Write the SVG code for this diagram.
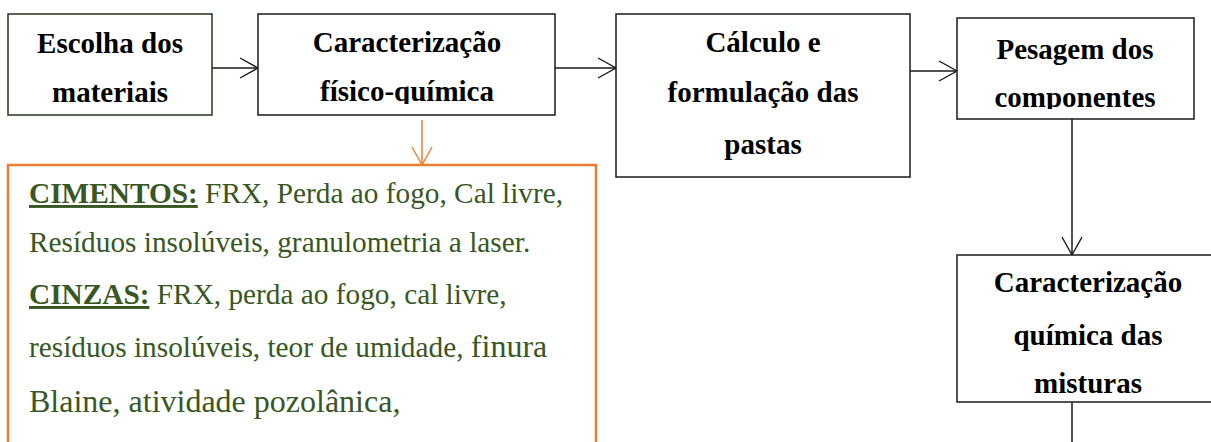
<svg xmlns="http://www.w3.org/2000/svg" width="1211" height="442" viewBox="0 0 1211 442">
  <style>
    .box { fill: #ffffff; stroke: #1a1a1a; stroke-width: 1.5; }
    .head { font-family: "Liberation Serif", "Times New Roman", serif; font-weight: bold; font-size: 29px; fill: #000000; text-anchor: middle; }
    .conn { fill: none; stroke: #1a1a1a; stroke-width: 1.5; }
    .body { font-family: "Liberation Serif", "Times New Roman", serif; font-size: 29.3px; fill: #385723; }
    .big { font-size: 32px; }
    .lbl { font-weight: bold; text-decoration: underline; }
  </style>
  <defs>
    <marker id="arr" viewBox="0 0 20 22" refX="19" refY="11" markerWidth="20" markerHeight="22" markerUnits="userSpaceOnUse" orient="auto">
      <path d="M1,1 L19,11 L1,21" fill="none" stroke="#1a1a1a" stroke-width="1.4"/>
    </marker>
    <marker id="arrO" viewBox="0 0 20 22" refX="19" refY="11" markerWidth="20" markerHeight="22" markerUnits="userSpaceOnUse" orient="auto">
      <path d="M1,1 L19,11 L1,21" fill="none" stroke="#ED7D31" stroke-width="1.4"/>
    </marker>
    <clipPath id="c2"><rect x="258" y="14" width="297" height="90"/></clipPath>
    <clipPath id="c4"><rect x="957" y="18" width="237" height="91"/></clipPath>
    <clipPath id="c5"><rect x="957" y="255" width="260" height="138"/></clipPath>
  </defs>

  <g id="connectors">
    <line class="conn" x1="212" y1="68" x2="258" y2="68" marker-end="url(#arr)"/>
    <line class="conn" x1="555" y1="68" x2="616" y2="68" marker-end="url(#arr)"/>
    <line class="conn" x1="910" y1="71" x2="957" y2="71" marker-end="url(#arr)"/>
    <line class="conn" x1="1072" y1="119" x2="1072" y2="255" marker-end="url(#arr)"/>
    <line class="conn" x1="1072" y1="402" x2="1072" y2="445"/>
    <line x1="422" y1="120" x2="422" y2="165" stroke="#ED7D31" stroke-width="1.5" marker-end="url(#arrO)"/>
  </g>

  <g id="n1">
    <rect class="box" x="8" y="14" width="204" height="101" style="stroke:#24361a"/>
    <text class="head" x="110" y="53">Escolha dos</text>
    <text class="head" x="110" y="102">materiais</text>
  </g>

  <g id="n2">
    <rect class="box" x="258" y="14" width="297" height="101"/>
    <text class="head" x="407" y="52">Caracterização</text>
    <text class="head" x="407" y="101" clip-path="url(#c2)">físico-química</text>
  </g>

  <g id="n3">
    <rect class="box" x="616" y="14" width="294" height="163"/>
    <text class="head" x="763" y="52">Cálculo e</text>
    <text class="head" x="763" y="102">formulação das</text>
    <text class="head" x="763" y="154">pastas</text>
  </g>

  <g id="n4">
    <rect class="box" x="957" y="18" width="237" height="101"/>
    <text class="head" x="1075" y="59">Pesagem dos</text>
    <text class="head" x="1075" y="107" clip-path="url(#c4)">componentes</text>
  </g>

  <g id="n5">
    <rect class="box" x="957" y="255" width="262" height="147"/>
    <text class="head" x="1088" y="292">Caracterização</text>
    <text class="head" x="1088" y="345">química das</text>
    <text class="head" x="1088" y="393" clip-path="url(#c5)">misturas</text>
  </g>

  <g id="n6">
    <rect x="8" y="165" width="588" height="290" fill="#ffffff" stroke="#ED7D31" stroke-width="2.5"/>
    <text class="body" x="29" y="203"><tspan class="lbl">CIMENTOS:</tspan> FRX, Perda ao fogo, Cal livre,</text>
    <text class="body" x="29" y="252">Resíduos insolúveis, granulometria a laser.</text>
    <text class="body" x="29" y="304"><tspan class="lbl">CINZAS:</tspan> FRX, perda ao fogo, cal livre,</text>
    <text class="body" x="29" y="357">resíduos insolúveis, teor de umidade, <tspan style="font-size:32px">finura</tspan></text>
    <text class="body big" x="29" y="412">Blaine, atividade pozolânica,</text>
  </g>
</svg>
